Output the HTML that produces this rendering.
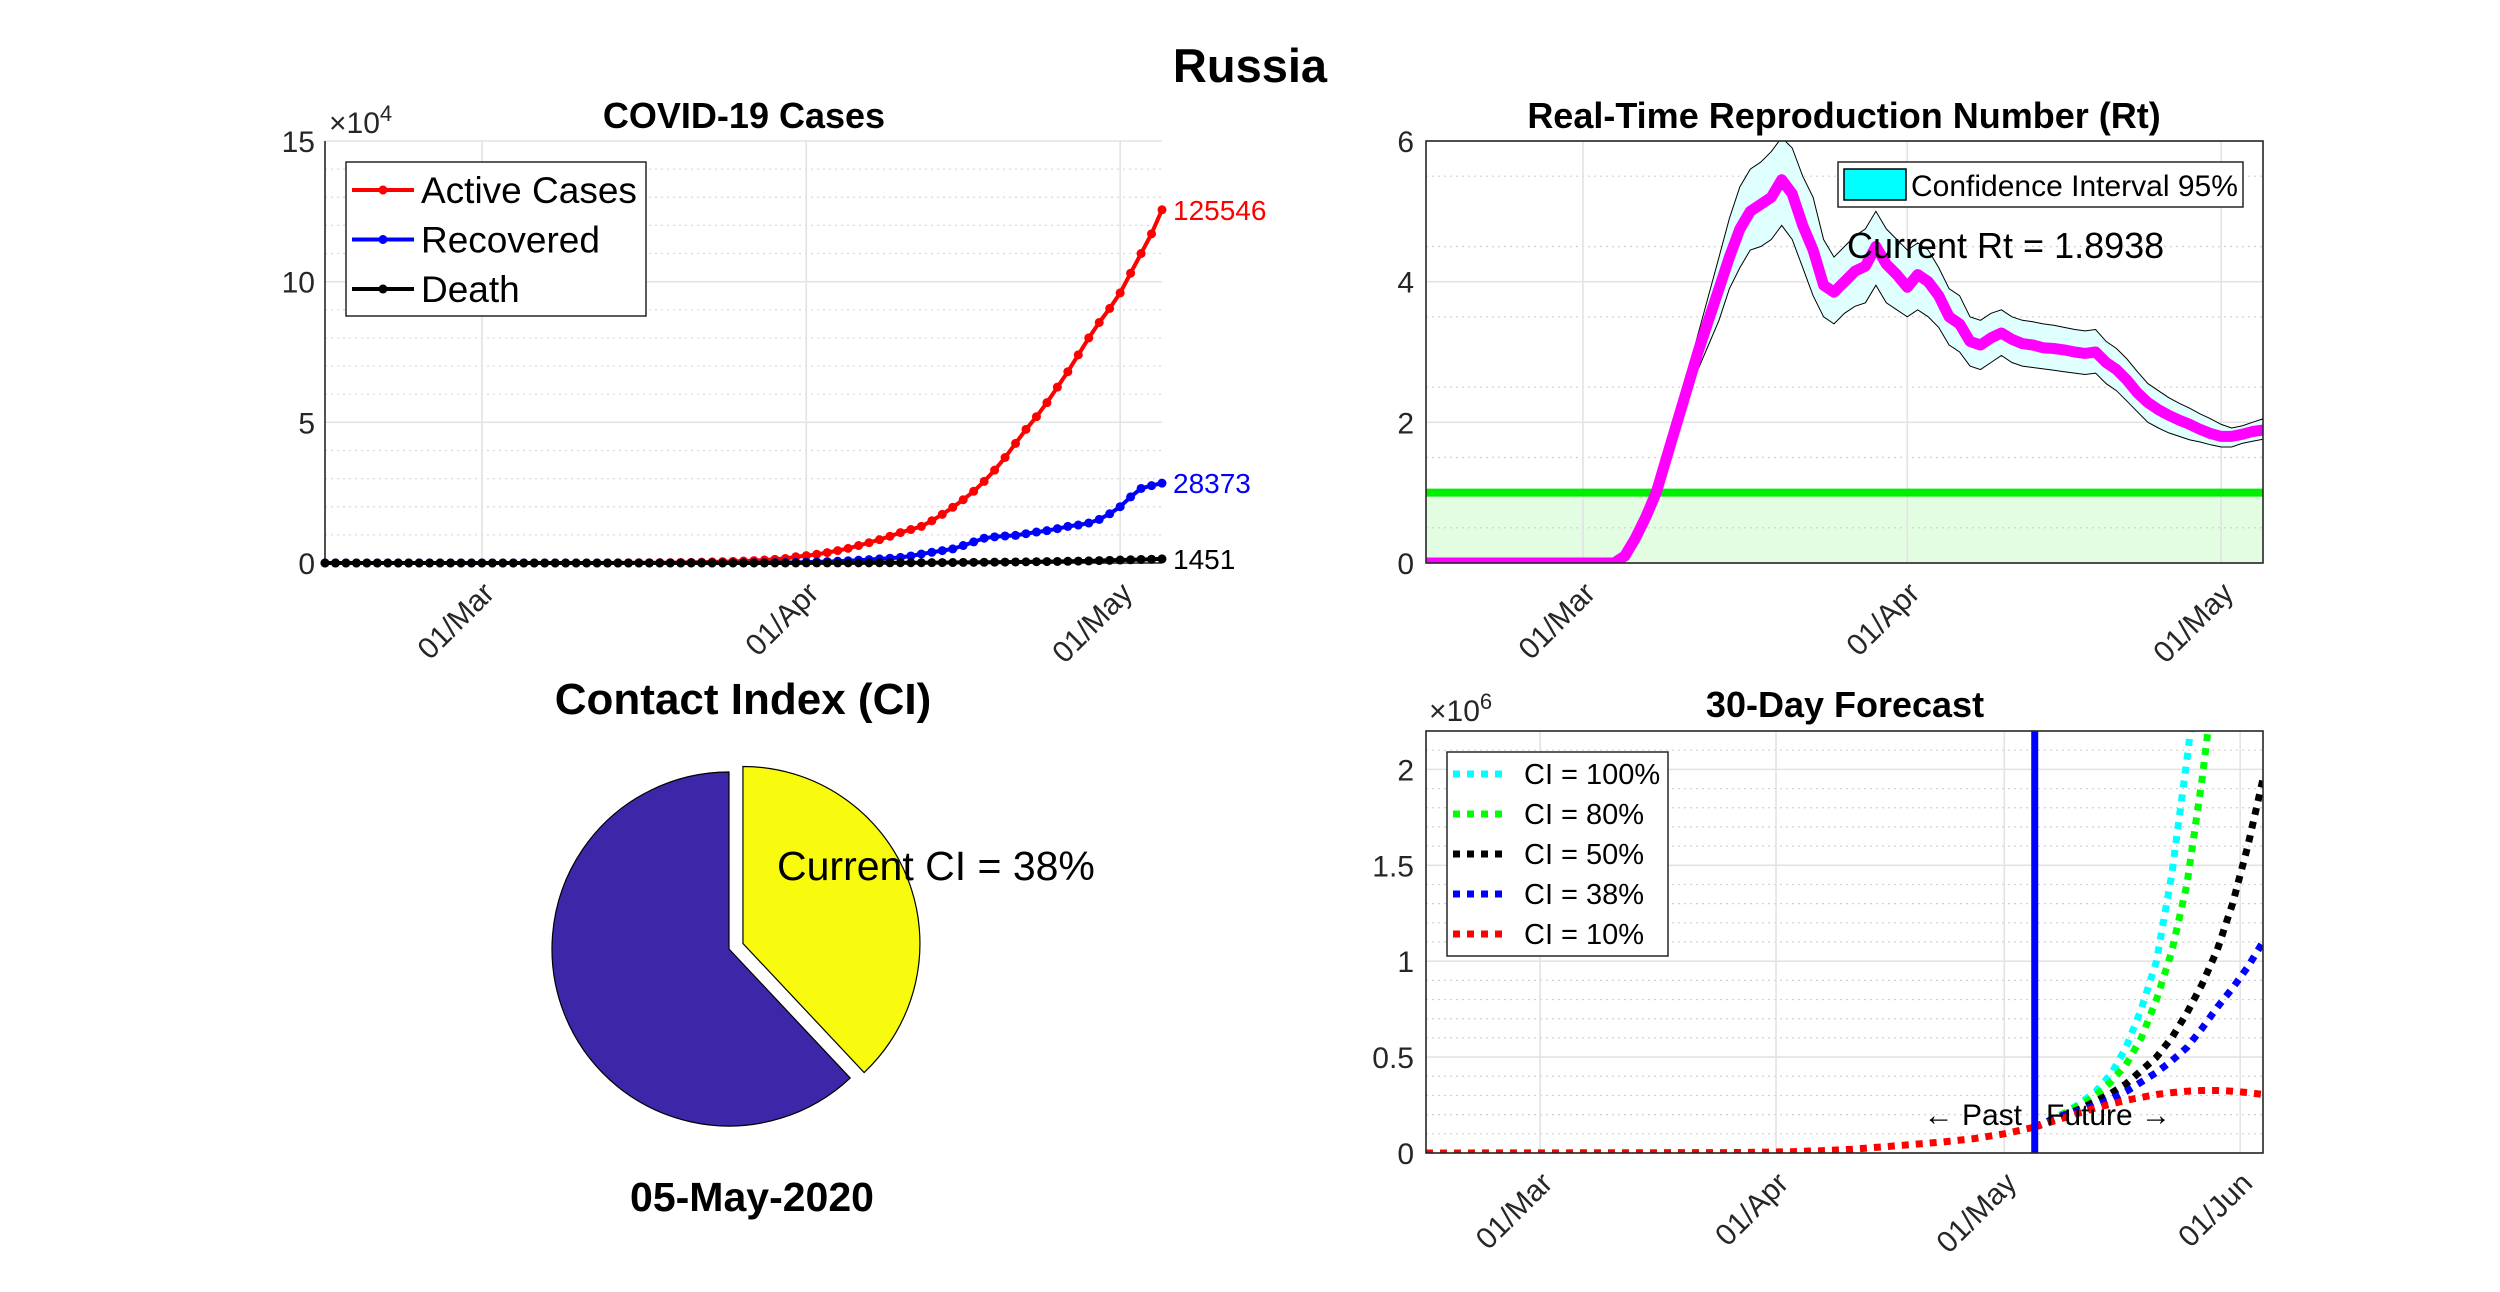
<!DOCTYPE html>
<html><head><meta charset="utf-8"><style>
html,body{margin:0;padding:0;background:#fff;}
svg{display:block;font-family:"Liberation Sans",Arial,sans-serif;}
</style></head><body>
<svg id="fig" width="2500" height="1292" viewBox="0 0 2500 1292" xmlns="http://www.w3.org/2000/svg">
<rect x="0" y="0" width="2500" height="1292" fill="#fff"/>
<text x="1250" y="82" text-anchor="middle" font-size="47" font-weight="bold">Russia</text>
<text x="744" y="128" text-anchor="middle" font-size="36" font-weight="bold">COVID-19 Cases</text>
<text x="1844" y="128" text-anchor="middle" font-size="36" font-weight="bold">Real-Time Reproduction Number (Rt)</text>
<text x="1845" y="717" text-anchor="middle" font-size="36" font-weight="bold">30-Day Forecast</text>
<text x="743" y="714" text-anchor="middle" font-size="44" font-weight="bold">Contact Index (CI)</text>
<text x="752" y="1211" text-anchor="middle" font-size="41" font-weight="bold">05-May-2020</text>
<g id="g1"></g>
<g id="g2"></g>
<g id="g3"></g>
<g id="g4"></g>
</svg>
<script>
// ---------- data: cases chart (days since 15-Feb) ----------
const caseDays = [0,1,2,3,4,5,6,7,8,9,10,11,12,13,14,15,16,17,18,19,20,21,22,23,24,25,26,27,28,29,30,31,32,33,34,35,36,37,38,39,40,41,42,43,44,45,46,47,48,49,50,51,52,53,54,55,56,57,58,59,60,61,62,63,64,65,66,67,68,69,70,71,72,73,74,75,76,77,78,79,80];
const activeCases = [0,0,0,0,0,0,0,0,0,0,0,0,0,0,0,0,0,0,0,0,0,0,0,0,0,0,10,20,40,55,75,95,120,150,190,240,300,380,470,580,700,850,1050,1300,1600,2200,2600,3100,3700,4400,5200,6200,7200,8300,9500,10800,11900,13000,15000,17300,19800,22500,25500,29000,33000,37500,42500,47500,52000,57000,62500,68000,74000,80000,85500,90500,96000,103000,110000,117000,125546];
const recovered = [0,0,0,0,0,0,0,0,0,0,0,0,0,0,0,0,0,0,0,0,0,0,0,0,0,0,0,0,0,0,5,8,10,15,20,25,30,40,50,60,70,90,110,140,180,220,300,400,500,650,800,1000,1200,1450,1700,2000,2500,3200,3800,4400,5000,6200,7500,8800,9300,9600,9800,10400,11000,11500,12200,13000,13500,14200,15500,17500,20000,23500,26500,27500,28373];
const deaths = [0,0,0,0,0,0,0,0,0,0,0,0,0,0,0,0,0,0,0,0,0,0,0,0,0,0,0,0,0,0,0,0,0,0,1,1,2,2,3,4,5,8,10,12,15,20,25,30,35,40,45,50,60,70,80,90,100,110,130,150,170,200,230,260,290,320,360,400,450,500,550,610,680,750,850,950,1050,1150,1250,1350,1451];
const caseLabels = ["125546","28373","1451"];
const caseYTicks = [0,5,10,15];
// ---------- data: Rt ----------
const rtValues = [0,0,0,0,0,0,0,0,0,0,0,0,0,0,0,0,0,0,0,0.1,0.35,0.65,1.0,1.5,2.0,2.5,3.0,3.45,3.9,4.35,4.75,5.0,5.1,5.2,5.45,5.25,4.8,4.45,3.95,3.85,4.0,4.15,4.22,4.5,4.25,4.1,3.92,4.1,4.0,3.8,3.5,3.4,3.15,3.1,3.2,3.27,3.18,3.12,3.1,3.06,3.05,3.03,3.0,2.98,3.0,2.85,2.75,2.6,2.42,2.28,2.18,2.1,2.03,1.97,1.9,1.84,1.8,1.8,1.83,1.87,1.89];
const rtHigh = [0,0,0,0,0,0,0,0,0,0,0,0,0,0,0,0,0,0,0,0.15,0.4,0.72,1.08,1.6,2.15,2.7,3.25,3.8,4.35,4.9,5.35,5.6,5.7,5.85,6.05,5.9,5.5,5.2,4.6,4.35,4.5,4.65,4.75,5.0,4.75,4.6,4.45,4.55,4.45,4.2,3.9,3.8,3.5,3.45,3.55,3.6,3.5,3.45,3.43,3.4,3.38,3.35,3.32,3.3,3.32,3.15,3.05,2.9,2.72,2.55,2.45,2.35,2.27,2.2,2.12,2.05,1.97,1.92,1.95,2.0,2.05];
const rtLow = [0,0,0,0,0,0,0,0,0,0,0,0,0,0,0,0,0,0,0,0.05,0.3,0.58,0.92,1.4,1.85,2.3,2.75,3.1,3.45,3.9,4.2,4.45,4.5,4.6,4.8,4.6,4.2,3.8,3.5,3.4,3.55,3.65,3.7,3.95,3.7,3.6,3.5,3.6,3.5,3.35,3.1,3.0,2.8,2.75,2.85,2.95,2.85,2.8,2.78,2.76,2.74,2.72,2.7,2.68,2.7,2.55,2.45,2.3,2.15,2.0,1.92,1.85,1.8,1.75,1.72,1.68,1.65,1.65,1.7,1.73,1.76];
const rtThreshold = 1;
const rtYTicks = [0,2,4,6];
// ---------- data: forecast (x10^6) ----------
const pastDays = [0,40,44,48,52,56,60,64,68,72,76,80];
const pastVals = [0,0.002,0.004,0.007,0.012,0.02,0.032,0.045,0.058,0.075,0.1,0.135];
const futureDays = [80,82,84,86,88,90,92,94,96,98,100,102,104,106,108,110];
const fcCI10 = [0.135,0.16,0.185,0.21,0.235,0.255,0.275,0.29,0.305,0.315,0.322,0.326,0.326,0.322,0.315,0.305];
const fcCI38 = [0.135,0.17,0.2,0.22,0.25,0.28,0.32,0.37,0.42,0.48,0.55,0.65,0.76,0.86,0.97,1.1];
const fcCI50 = [0.135,0.17,0.2,0.23,0.27,0.31,0.36,0.43,0.5,0.6,0.73,0.88,1.06,1.3,1.6,1.95];
const fcCI80 = [0.135,0.17,0.21,0.25,0.3,0.37,0.46,0.6,0.8,1.05,1.4,1.95,2.6];
const fcCI100 = [0.135,0.17,0.21,0.26,0.32,0.41,0.55,0.75,1.0,1.45,2.05,2.7];
const fcLabels = ["CI = 100%","CI = 80%","CI = 50%","CI = 38%","CI = 10%"];
const fcYTicks = [0,0.5,1,1.5,2];
const fcYTickLabels = ["0","0.5","1","1.5","2"];
// ---------- data: pie ----------
const ciShare = [0.38,0.62];
const monthTickDays = [15,46,76,107];
const monthTickLabels = ["01/Mar","01/Apr","01/May","01/Jun"];

const NS="http://www.w3.org/2000/svg";
function mk(tag,parent,attrs){const e=document.createElementNS(NS,tag);for(const k in attrs)e.setAttribute(k,attrs[k]);parent.appendChild(e);return e;}
function pts(xs,ys,X,Y){return xs.map((d,i)=>X(d).toFixed(1)+","+Y(ys[i]).toFixed(1)).join(" ");}

// ============ chart 1 ============
(function(){
const g=document.getElementById('g1');
const L=325,R=1162,T=141,B=563;
const X=d=>L+d*(R-L)/80, Y=v=>B-v/150000*(B-T);
for(let v=1;v<15;v++){ if(v%5===0)continue;
  const l=mk('line',g,{x1:L,x2:R,y1:Y(v*1e4),y2:Y(v*1e4),stroke:'#d8d8d8','stroke-width':1.2,'stroke-dasharray':'2 4'});
  
  
}
caseYTicks.forEach(v=>{
  const l=mk('line',g,{x1:L,x2:R,y1:Y(v*1e4),y2:Y(v*1e4),stroke:'#e3e3e3','stroke-width':1.6});
  
  
  const t=mk('text',g,{x:L-10,y:Y(v*1e4)+11,'text-anchor':'end','font-size':30,fill:'#262626'});t.textContent=v;
  
  
});
monthTickDays.slice(0,3).forEach((d,i)=>{
  const l=mk('line',g,{x1:X(d),x2:X(d),y1:T,y2:B,stroke:'#e3e3e3','stroke-width':1.6});
  
  
  const t=mk('text',g,{transform:`translate(${X(d)+14},${B+32}) rotate(-45)`,'text-anchor':'end','font-size':30,fill:'#262626'});t.textContent=monthTickLabels[i];
  
  
});
const ax=mk('path',g,{d:`M${L},${T}V${B}H${R}`,fill:'none',stroke:'#262626','stroke-width':1.6});


const ex=mk('text',g,{x:329,y:133,'font-size':30,fill:'#262626'});ex.innerHTML='×10<tspan dy="-12" font-size="22">4</tspan>';


const series=[[activeCases,'#ff0000','active-cases-line'],[recovered,'#0000ff','recovered-line'],[deaths,'#000000','death-line']];
series.forEach(([vals,c,n])=>{
  const pl=mk('polyline',g,{points:pts(caseDays,vals,X,Y),fill:'none',stroke:c,'stroke-width':4,'stroke-linejoin':'round'});
  
  
  caseDays.forEach((d,i)=>{
    const m=mk('circle',g,{cx:X(d),cy:Y(vals[i]),r:4.5,fill:c});
    
    
  });
});
const last=caseDays.length-1;
[[activeCases,'#ff0000'],[recovered,'#0000ff'],[deaths,'#000']].forEach(([vals,c],i)=>{
  const t=mk('text',g,{x:1173,y:Y(vals[last])+10,'font-size':28,fill:c});t.textContent=caseLabels[i];
  
  
});
const lg=mk('g',g,{});


mk('rect',lg,{x:346,y:162,width:300,height:154,fill:'#fff',stroke:'#262626','stroke-width':1.5});
[['Active Cases','#ff0000'],['Recovered','#0000ff'],['Death','#000']].forEach(([s,c],i)=>{
  const y=190+i*49.5;
  const e=mk('g',lg,{});
  
  
  mk('line',e,{x1:352,x2:414,y1:y,y2:y,stroke:c,'stroke-width':4});
  mk('circle',e,{cx:383,cy:y,r:4.5,fill:c});
  const t=mk('text',e,{x:421,y:y+13,'font-size':37});t.textContent=s;
});
})();

// ============ chart 2 (Rt) ============
(function(){
const g=document.getElementById('g2');
const L=1426,R=2263,T=141,B=563;
const X=d=>L+d*(R-L)/80, Y=v=>B-v/6*(B-T);
const cp=mk('clipPath',g,{id:'c2'});mk('rect',cp,{x:L,y:T,width:R-L,height:B-T});
const gf=mk('rect',g,{x:L,y:Y(rtThreshold),width:R-L,height:Y(0)-Y(rtThreshold),fill:'#e2fde2'});


for(let v=1;v<12;v+=2){
  const l=mk('line',g,{x1:L,x2:R,y1:Y(v/2),y2:Y(v/2),stroke:'#d0d0d0','stroke-width':1.2,'stroke-dasharray':'2 4'});
  
  
}
rtYTicks.forEach(v=>{
  const l=mk('line',g,{x1:L,x2:R,y1:Y(v),y2:Y(v),stroke:'#e3e3e3','stroke-width':1.6});
  
  
  const t=mk('text',g,{x:L-12,y:Y(v)+11,'text-anchor':'end','font-size':30,fill:'#262626'});t.textContent=v;
  
  
});
monthTickDays.slice(0,3).forEach((d,i)=>{
  const l=mk('line',g,{x1:X(d),x2:X(d),y1:T,y2:B,stroke:'#e3e3e3','stroke-width':1.6});
  
  
  const t=mk('text',g,{transform:`translate(${X(d)+14},${B+32}) rotate(-45)`,'text-anchor':'end','font-size':30,fill:'#262626'});t.textContent=monthTickLabels[i];
  
  
});
const days=rtValues.map((_,i)=>i);
const band=mk('path',g,{d:'M'+pts(days,rtHigh,X,Y)+' L'+pts(days.slice().reverse(),rtLow.slice().reverse(),X,Y)+'Z',fill:'#e0ffff',stroke:'#000','stroke-width':1,'clip-path':'url(#c2)'});


const gl=mk('line',g,{x1:L,x2:R,y1:Y(rtThreshold),y2:Y(rtThreshold),stroke:'#00ee00','stroke-width':8});


const rl=mk('polyline',g,{points:pts(days,rtValues,X,Y),fill:'none',stroke:'#ff00ff','stroke-width':11,'stroke-linejoin':'round','clip-path':'url(#c2)'});


const bx=mk('rect',g,{x:L,y:T,width:R-L,height:B-T,fill:'none',stroke:'#262626','stroke-width':1.6});


const ct=mk('text',g,{x:1847,y:258,'font-size':36});
ct.textContent='Current Rt = 1.8938';


const lg=mk('g',g,{});


mk('rect',lg,{x:1838,y:162,width:405,height:45,fill:'#fff',stroke:'#262626','stroke-width':1.5});
mk('rect',lg,{x:1844,y:169,width:62,height:31,fill:'#00ffff',stroke:'#000','stroke-width':1.5});
const lt=mk('text',lg,{x:1911,y:196,'font-size':30});lt.textContent='Confidence Interval 95%';
})();

// ============ chart 3 (forecast) ============
(function(){
const g=document.getElementById('g3');
const L=1426,R=2263,T=731,B=1153;
const X=d=>L+d*(R-L)/110, Y=v=>B-v/2.2*(B-T);
const cp=mk('clipPath',g,{id:'c3'});mk('rect',cp,{x:L,y:T,width:R-L,height:B-T});
for(let k=1;k<22;k++){ if(k%5===0)continue;
  const l=mk('line',g,{x1:L,x2:R,y1:Y(k/10),y2:Y(k/10),stroke:'#d0d0d0','stroke-width':1.2,'stroke-dasharray':'2 4'});
  
  
}
fcYTicks.forEach((v,i)=>{
  const l=mk('line',g,{x1:L,x2:R,y1:Y(v),y2:Y(v),stroke:'#e3e3e3','stroke-width':1.6});
  
  
  const t=mk('text',g,{x:L-12,y:Y(v)+11,'text-anchor':'end','font-size':30,fill:'#262626'});t.textContent=fcYTickLabels[i];
  
  
});
monthTickDays.forEach((d,i)=>{
  const l=mk('line',g,{x1:X(d),x2:X(d),y1:T,y2:B,stroke:'#e3e3e3','stroke-width':1.6});
  
  
  const t=mk('text',g,{transform:`translate(${X(d)+14},${B+32}) rotate(-45)`,'text-anchor':'end','font-size':30,fill:'#262626'});t.textContent=monthTickLabels[i];
  
  
});
const ex=mk('text',g,{x:1429,y:721,'font-size':30,fill:'#262626'});ex.innerHTML='×10<tspan dy="-12" font-size="22">6</tspan>';


const fut=[[fcCI100,'#00ffff','forecast-ci-100'],[fcCI80,'#00ff00','forecast-ci-80'],[fcCI50,'#000000','forecast-ci-50'],[fcCI38,'#0000ff','forecast-ci-38'],[fcCI10,'#ff0000','forecast-ci-10']];
fut.forEach(([v,c,n])=>{
  const pl=mk('polyline',g,{points:pts(futureDays.slice(0,v.length),v,X,Y),fill:'none',stroke:c,'stroke-width':7,'stroke-dasharray':'7 7','clip-path':'url(#c3)'});
  
  
});
const pp=mk('polyline',g,{points:pts(pastDays,pastVals,X,Y),fill:'none',stroke:'#ff0000','stroke-width':7,'stroke-dasharray':'7 7','clip-path':'url(#c3)'});


const vl=mk('line',g,{x1:X(80),x2:X(80),y1:T,y2:B,stroke:'#0000ff','stroke-width':7});


const pt=mk('text',g,{x:2022,y:1125,'text-anchor':'end','font-size':30});pt.textContent='← Past';


const ft=mk('text',g,{x:2046,y:1125,'font-size':30});ft.textContent='Future →';


const bx=mk('rect',g,{x:L,y:T,width:R-L,height:B-T,fill:'none',stroke:'#262626','stroke-width':1.6});


const lg=mk('g',g,{});


mk('rect',lg,{x:1447,y:752,width:221,height:204,fill:'#fff',stroke:'#262626','stroke-width':1.5});
fut.forEach(([v,c],i)=>{
  const y=774+i*40;
  const e=mk('g',lg,{});
  
  
  mk('line',e,{x1:1453,x2:1509,y1:y,y2:y,stroke:c,'stroke-width':7,'stroke-dasharray':'7 7'});
  const t=mk('text',e,{x:1524,y:y+10,'font-size':29});t.textContent=fcLabels[i];
});
})();

// ============ pie ============
(function(){
const g=document.getElementById('g4');
const cx=729,cy=949,r=177,off=15;
const a1=ciShare[0]*2*Math.PI;
const pxy=(x0,y0,a)=>[x0+r*Math.sin(a),y0-r*Math.cos(a)];
const mid=a1/2, ox=cx+off*Math.sin(mid), oy=cy-off*Math.cos(mid);
const p0=pxy(ox,oy,0),p1=pxy(ox,oy,a1);
const ys=mk('path',g,{d:`M${ox},${oy}L${p0[0]},${p0[1]}A${r},${r} 0 ${a1>Math.PI?1:0} 1 ${p1[0]},${p1[1]}Z`,fill:'#f9fb0e',stroke:'#000','stroke-width':1.2});


const q0=pxy(cx,cy,a1),q1=pxy(cx,cy,2*Math.PI-0.0001);
const bs=mk('path',g,{d:`M${cx},${cy}L${q0[0]},${q0[1]}A${r},${r} 0 ${(2*Math.PI-a1)>Math.PI?1:0} 1 ${q1[0]},${q1[1]}Z`,fill:'#3e26a8',stroke:'#000','stroke-width':1.2});


const t=mk('text',g,{x:777,y:880,'font-size':41});t.textContent='Current CI = '+Math.round(ciShare[0]*100)+'%';


})();
</script>
</body></html>
